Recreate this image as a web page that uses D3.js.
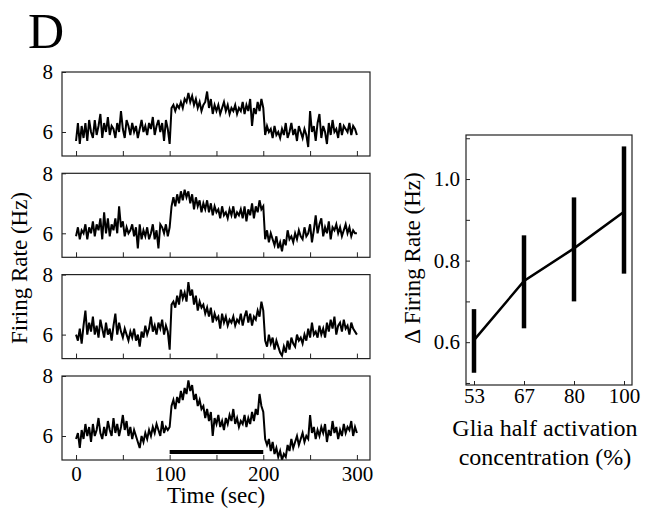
<!DOCTYPE html>
<html lang="en">
<head>
<meta charset="UTF-8">
<title>Firing rate traces and glia half activation</title>
<script src="https://d3js.org/d3.v7.min.js"></script>
<style>
  body { margin: 0; background: #fff; }
  .frame { fill: none; stroke: #222; stroke-width: 1.2px; }
  .trace { fill: none; stroke: #000; stroke-width: 2px; stroke-linejoin: miter; }
  .axis path { display: none; }
  .axis line { stroke: #222; stroke-width: 1px; }
  .axis text { font-size: 21px; fill: #000; }
  .title { font-size: 23px; fill: #000; }
</style>
</head>
<body>
<svg width="650" height="513"></svg>
<script>
const serif = "Liberation Serif, Times New Roman, DejaVu Serif, serif";

// sample times (sec), one value every 2 s
const times = d3.range(0, 301, 2);

const trace1 = [
  5.7, 6.3, 5.6, 6.2, 5.8, 6.3, 5.7, 6.4, 6.0, 5.8,
  6.4, 5.9, 6.2, 6.6, 5.8, 6.3, 6.0, 6.5, 5.9, 6.2,
  6.1, 5.8, 6.3, 6.0, 6.7, 6.1, 5.8, 6.4, 6.2, 5.9,
  6.3, 6.0, 6.2, 5.8, 6.1, 6.4, 6.0, 6.2, 5.9, 6.3,
  6.1, 6.5, 5.9, 6.2, 6.4, 6.0, 6.3, 5.7, 6.4, 6.1,
  5.6,
  6.8, 6.9, 6.7, 6.9, 6.8, 7.0, 6.8, 7.1, 7.0, 7.3,
  7.0, 7.2, 6.9, 7.1, 6.8, 7.0, 6.7, 6.9, 7.0, 7.35,
  6.8, 7.1, 6.6, 6.9, 6.7, 6.9, 6.6, 6.8, 7.0, 6.7,
  6.9, 6.6, 6.8, 6.7, 6.9, 6.6, 6.8, 6.7, 7.0, 6.6,
  6.9, 6.7, 7.1, 6.2, 6.8, 6.6, 7.0, 6.7, 7.1, 6.8,
  5.9, 6.2, 6.0, 6.1, 5.8, 6.2, 5.9, 6.0, 5.8, 6.1,
  5.9, 6.3, 5.8, 6.0, 6.3, 5.9, 6.1, 5.7, 6.2, 6.0,
  5.8, 6.1, 5.9, 5.5, 6.7, 6.0, 6.2, 5.7, 6.3, 6.6,
  5.8, 6.2, 6.0, 5.6, 6.3, 5.9, 6.4, 6.0, 6.1, 5.8,
  6.3, 5.9, 6.2, 6.1, 6.0, 6.3, 5.9, 6.2, 6.1, 5.9
];

const trace2 = [
  5.9, 6.2, 5.8, 6.1, 6.0, 6.3, 5.8, 6.2, 6.0, 6.4,
  5.9, 6.3, 6.1, 6.5, 5.8, 6.7, 6.0, 6.5, 5.9, 6.3,
  6.1, 6.5, 6.0, 6.9, 6.2, 6.4, 5.9, 6.2, 6.0, 6.1,
  6.3, 5.9, 6.2, 5.5, 6.3, 5.8, 6.1, 5.9, 6.2, 5.8,
  6.0, 6.3, 5.8, 6.1, 5.5, 6.3, 6.2, 6.0, 6.3, 5.9,
  6.2,
  6.9, 7.2, 6.9, 7.3, 7.0, 7.4, 7.1, 7.45, 7.2, 7.4,
  7.0, 7.3, 6.8, 7.2, 6.9, 7.1, 6.7, 7.0, 6.8, 7.1,
  6.7, 7.0, 6.6, 6.9, 6.7, 6.8, 6.5, 6.9, 6.6, 6.7,
  6.5, 6.8, 6.6, 6.9, 6.5, 6.7, 6.6, 6.8, 6.5, 6.9,
  6.4, 6.8, 6.6, 7.0, 6.5, 6.9, 6.7, 7.1, 6.8, 6.9,
  5.8, 6.1, 5.7, 6.0, 5.8, 5.6, 5.9, 5.5, 5.7, 5.4,
  5.8, 5.6, 6.1, 5.8, 5.9, 5.7, 6.0, 5.8, 6.1, 5.9,
  5.8, 6.2, 5.9, 6.0, 6.3, 5.7, 6.1, 6.6, 6.0, 6.3,
  6.5, 5.9, 6.2, 6.0, 6.4, 5.8, 6.2, 6.1, 6.3, 6.0,
  6.2, 5.9, 6.1, 6.3, 6.0, 6.2, 5.9, 6.1, 6.0, 6.0
];

const trace3 = [
  6.0, 5.8, 6.2, 5.7, 6.3, 6.8, 6.0, 6.4, 6.1, 6.6,
  6.0, 6.3, 5.9, 6.5, 6.2, 5.9, 6.4, 6.0, 6.2, 5.8,
  6.3, 6.7, 6.0, 6.4, 6.1, 5.9, 6.2, 6.0, 5.8, 6.1,
  5.9, 6.2, 5.8, 6.0, 5.6, 6.1, 5.9, 6.3, 6.0, 6.2,
  6.6, 6.1, 6.3, 6.0, 6.4, 6.2, 6.5, 6.0, 6.3, 6.1,
  5.5,
  7.0, 7.1, 6.9, 7.3, 7.0, 7.5, 7.2, 7.4, 7.1, 7.75,
  7.3, 7.5, 7.0, 7.3, 6.8, 7.1, 6.9, 7.0, 6.7, 6.9,
  6.6, 6.9, 6.4, 6.7, 6.5, 6.6, 6.2, 6.7, 6.4, 6.6,
  6.3, 6.5, 6.4, 6.6, 6.3, 6.5, 6.4, 6.7, 6.3, 6.6,
  6.8, 6.4, 6.7, 6.3, 6.6, 6.5, 6.8, 6.6, 7.1, 6.8,
  5.8, 5.6, 6.0, 5.7, 5.9, 5.5, 5.8, 5.6, 5.4, 5.3,
  5.6, 5.4, 5.8, 5.5, 5.9, 5.7, 5.6, 6.0, 5.8, 5.9,
  5.7, 6.0, 5.8, 6.2, 5.9, 6.4, 6.0, 6.1, 5.9, 6.3,
  6.0, 6.2, 5.9, 6.4, 6.1, 6.5, 6.2, 6.6, 6.0, 6.3,
  6.4, 6.1, 6.5, 6.2, 6.3, 6.0, 6.4, 6.2, 6.1, 6.0
];

const trace4 = [
  5.9, 6.1, 5.6, 6.2, 5.9, 6.4, 6.0, 6.3, 5.8, 6.4,
  6.0, 6.2, 6.6, 6.1, 5.9, 6.3, 6.0, 6.5, 6.2, 6.0,
  6.6, 6.1, 6.4, 6.0, 6.3, 6.7, 6.2, 6.5, 6.0, 6.3,
  5.9, 6.2, 6.0, 5.8, 5.6, 6.0, 5.8, 6.1, 5.9, 6.2,
  6.0, 6.3, 6.1, 6.4, 6.2, 6.0, 6.5, 6.1, 6.3, 6.2,
  6.3,
  7.0, 7.2, 6.9, 7.3, 7.1, 7.5, 7.2, 7.6, 7.4, 7.85,
  7.5, 7.7, 7.2, 7.4, 7.0, 7.2, 6.9, 7.0, 6.6, 6.9,
  6.5, 6.8, 6.0, 6.6, 6.4, 6.7, 6.3, 6.5, 6.2, 6.6,
  6.4, 6.7, 6.5, 6.9, 6.4, 6.6, 6.3, 6.5, 6.4, 6.7,
  6.3, 6.6, 6.4, 6.8, 6.5, 6.9, 6.7, 7.4, 7.0, 6.8,
  5.9, 5.7, 5.9, 5.5, 5.8, 5.4, 5.6, 5.3, 5.5, 5.2,
  5.4, 5.3, 5.7, 5.5, 5.9, 5.6, 5.8, 6.0, 5.7, 5.9,
  6.1, 5.8, 6.0, 5.9, 6.7, 6.1, 6.3, 5.9, 6.2, 6.0,
  6.3, 6.1, 6.4, 5.8, 6.2, 6.0, 6.5, 6.1, 6.3, 5.9,
  6.2, 6.0, 6.4, 6.1, 6.3, 6.2, 6.5, 6.0, 6.3, 6.1
];

const traces = [trace1, trace2, trace3, trace4];
const timeTicks = [0, 50, 100, 150, 200, 250, 300];
const timeLabels = [0, 100, 200, 300];
const rateTicks = [6, 8];
const stimWindow = [100, 200];

// right panel
const concLabels = ["53", "67", "80", "100"];
const deltaMean = [0.605, 0.75, 0.83, 0.92];
const deltaLow = [0.525, 0.634, 0.70, 0.768];
const deltaHigh = [0.681, 0.862, 0.955, 1.08];
const deltaTicks = [0.5, 0.6, 0.7, 0.8, 0.9, 1.0, 1.1];
const deltaLabels = [0.6, 0.8, 1.0];

const svg = d3.select("svg").attr("font-family", serif);

// ---- left: four traces ----
const panelLeft = 62, panelRight = 370, panelH = 84;
const panelTops = [72, 173.3, 274.6, 376];

const x = d3.scaleLinear().domain([-15, 314]).range([panelLeft, panelRight]);
const y = d3.scaleLinear().domain([5.2, 8]).range([panelH, 0]);

const line = d3.line()
  .x((d, i) => x(times[i]))
  .y(d => y(d));

traces.forEach((tr, k) => {
  const g = svg.append("g").attr("transform", `translate(0,${panelTops[k]})`);

  g.append("clipPath").attr("id", "clip" + k)
    .append("rect")
    .attr("x", panelLeft).attr("y", 0)
    .attr("width", panelRight - panelLeft).attr("height", panelH);

  g.append("path")
    .attr("class", "trace")
    .attr("clip-path", `url(#clip${k})`)
    .attr("d", line(tr));

  if (k === 3) {
    g.append("line")
      .attr("x1", x(stimWindow[0])).attr("x2", x(stimWindow[1]))
      .attr("y1", y(5.47)).attr("y2", y(5.47))
      .attr("stroke", "#000").attr("stroke-width", 4);
  }

  g.append("g")
    .attr("class", "axis")
    .attr("transform", `translate(0,${panelH})`)
    .call(d3.axisBottom(x).tickValues(timeTicks).tickSize(-5).tickPadding(6)
      .tickFormat(d => (k === 3 && timeLabels.includes(d)) ? d : ""))
    .attr("font-family", serif);

  g.append("g")
    .attr("class", "axis")
    .attr("transform", `translate(${panelLeft},0)`)
    .call(d3.axisLeft(y).tickValues(rateTicks).tickSize(-4).tickPadding(9)
      .tickFormat(d3.format("d")))
    .attr("font-family", serif);

  g.append("rect")
    .attr("class", "frame")
    .attr("x", panelLeft).attr("y", 0)
    .attr("width", panelRight - panelLeft).attr("height", panelH);
});

// ---- right: delta firing rate ----
const rLeft = 466, rRight = 632, rTop = 135, rBottom = 385;
const xr = d3.scalePoint().domain(concLabels).range([rLeft, rRight]).padding(0.16);
const yr = d3.scaleLinear().domain([0.495, 1.108]).range([rBottom, rTop]);

svg.append("g")
  .attr("class", "axis")
  .attr("transform", `translate(0,${rBottom})`)
  .call(d3.axisBottom(xr).tickSize(-4).tickPadding(3))
  .attr("font-family", serif);

svg.append("g")
  .attr("class", "axis")
  .attr("transform", `translate(${rLeft},0)`)
  .call(d3.axisLeft(yr).tickValues(deltaTicks).tickSize(-4).tickPadding(6)
    .tickFormat(d => deltaLabels.some(v => Math.abs(v - d) < 1e-6) ? d3.format(".1f")(d) : ""))
  .attr("font-family", serif);

svg.append("g").selectAll("line")
  .data(concLabels)
  .join("line")
  .attr("x1", d => xr(d)).attr("x2", d => xr(d))
  .attr("y1", (d, i) => yr(deltaLow[i]))
  .attr("y2", (d, i) => yr(deltaHigh[i]))
  .attr("stroke", "#000")
  .attr("stroke-width", 4.5);

svg.append("path")
  .attr("fill", "none")
  .attr("stroke", "#000")
  .attr("stroke-width", 2.5)
  .attr("d", d3.line().x((d, i) => xr(concLabels[i])).y(d => yr(d))(deltaMean));

svg.append("rect")
  .attr("class", "frame")
  .attr("x", rLeft).attr("y", rTop)
  .attr("width", rRight - rLeft).attr("height", rBottom - rTop);

// ---- titles ----
svg.append("text")
  .attr("x", 28).attr("y", 48)
  .attr("font-size", 50)
  .text("D");

svg.append("text")
  .attr("class", "title")
  .attr("transform", "translate(27,268) rotate(-90)")
  .attr("text-anchor", "middle")
  .text("Firing Rate (Hz)");

svg.append("text")
  .attr("class", "title")
  .attr("x", 216).attr("y", 503)
  .attr("text-anchor", "middle")
  .text("Time (sec)");

svg.append("text")
  .attr("class", "title")
  .attr("transform", "translate(420,258) rotate(-90)")
  .attr("text-anchor", "middle")
  .text("Δ Firing Rate (Hz)");

svg.append("text")
  .attr("class", "title")
  .attr("x", 545).attr("y", 436)
  .attr("text-anchor", "middle")
  .style("font-size", "24px")
  .text("Glia half activation");

svg.append("text")
  .attr("class", "title")
  .attr("x", 545).attr("y", 465)
  .attr("text-anchor", "middle")
  .style("font-size", "24px")
  .text("concentration (%)");
</script>
</body>
</html>
